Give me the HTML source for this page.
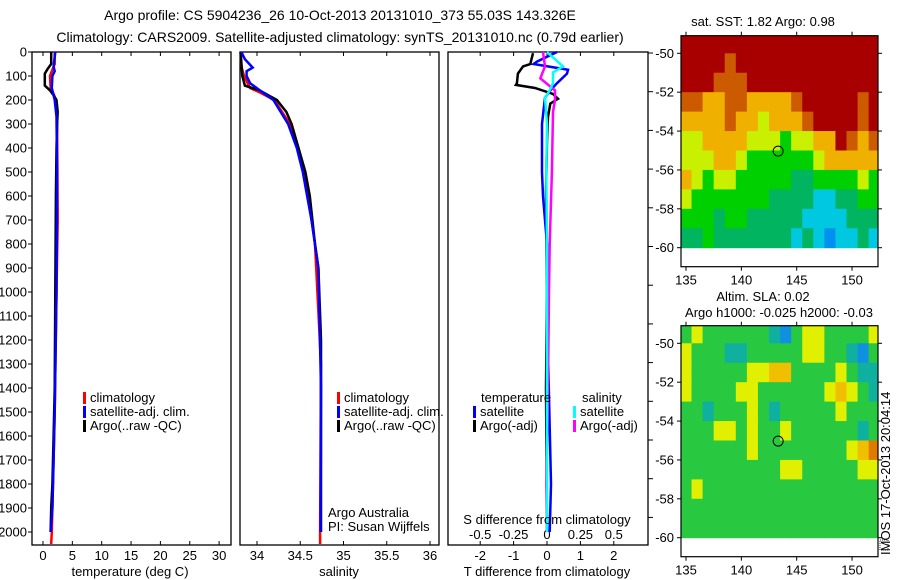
<!DOCTYPE html>
<html><head><meta charset="utf-8"><style>
html,body{margin:0;padding:0;background:#fff}
svg{display:block;font-family:"Liberation Sans",sans-serif}
</style></head><body>
<svg id="chart" width="900" height="580" viewBox="0 0 900 580" xmlns="http://www.w3.org/2000/svg">
<g id="g-plot"></g>
<g id="g-static" font-size="13" fill="#000">
<text x="340" y="20" text-anchor="middle" font-size="14">Argo profile: CS 5904236_26 10-Oct-2013 20131010_373 55.03S 143.326E</text>
<text x="340" y="42" text-anchor="middle" font-size="14">Climatology: CARS2009. Satellite-adjusted climatology: synTS_20131010.nc (0.79d earlier)</text>
<text x="130" y="576" text-anchor="middle">temperature (deg C)</text>
<text x="339" y="576" text-anchor="middle">salinity</text>
<text x="547" y="576" text-anchor="middle">T difference from climatology</text>
<text x="547" y="524" text-anchor="middle">S difference from climatology</text>
<text x="763" y="26" text-anchor="middle">sat. SST: 1.82 Argo: 0.98</text>
<text x="763" y="301" text-anchor="middle">Altim. SLA: 0.02</text>
<text x="779" y="317" text-anchor="middle">Argo h1000: -0.025 h2000: -0.03</text>
<text transform="translate(890,555) rotate(-90)" x="0" y="0">IMOS 17-Oct-2013 20:04:14</text>
<rect x="880" y="540" width="8" height="10" fill="none" stroke="#000" stroke-width="0.8" stroke-dasharray="1,1"/>
<text x="328" y="517">Argo Australia</text>
<text x="328" y="531">PI: Susan Wijffels</text>
</g>
</svg>
<script>
// ---------- profile data ----------
var climTDepth = [0,50,80,100,150,180,250,300,700,1000,1500,2000,2050];
var climTVal   = [2.0,2.0,1.5,1.2,1.3,1.9,2.3,2.4,2.5,2.3,2.0,1.5,1.4];
var satTDepth  = [0,60,80,100,150,200,270,500,1000,1500,1700,1900,2000];
var satTVal    = [2.1,1.8,2.0,1.6,1.5,2.0,2.3,2.4,2.3,2.0,1.8,1.6,1.3];
var argoTDepth = [0,50,70,90,140,160,180,200,250,300,400,600,1000,1400,1600,1800,1900,2000];
var argoTVal   = [1.4,1.4,0.8,0.3,0.3,1.2,1.8,2.3,2.5,2.4,2.3,2.2,2.1,2.0,1.8,1.6,1.4,1.3];

var climSDepth = [0,60,100,150,170,200,300,500,800,1300,2000,2050];
var climSVal   = [33.81,33.82,33.85,33.92,34.04,34.20,34.38,34.55,34.67,34.74,34.73,34.73];
var satSDepth  = [0,30,65,80,100,130,170,200,300,400,500,700,900,1400,2000];
var satSVal    = [33.82,33.86,33.95,33.88,33.88,33.92,34.07,34.19,34.36,34.46,34.53,34.63,34.71,34.74,34.735];
var argoSDepth = [0,100,140,160,180,200,250,300,400,500,600,800,900,1200,2000];
var argoSVal   = [33.81,33.83,33.86,34.03,34.13,34.23,34.34,34.40,34.48,34.56,34.61,34.67,34.71,34.74,34.74];

var dSatTDepth = [0,40,50,74,90,130,160,190,300,500,600,700,800,1200,1800,2000];
var dSatTVal   = [0.3,-0.3,-0.4,0.63,0.6,0.3,0.1,-0.06,-0.15,-0.15,-0.12,-0.06,0,0.02,0.12,0.08];
var dArgoTDepth= [5,50,60,90,130,137,150,175,195,215,270,370,580,1000,1400,2000];
var dArgoTVal  = [-0.42,-0.5,-0.72,-0.87,-0.9,-0.93,-0.36,0.18,0.33,0.1,0.03,0,-0.03,0,-0.03,0];
var dSatSDepth = [0,30,60,85,130,160,190,300,500,800,1200,2000];
var dSatSVal   = [0,0.06,0.12,0.045,0.045,0.02,-0.015,0,-0.005,0,0,0];
var dArgoSDepth= [0,60,110,160,200,250,500,800,1000,1500,1800,2000];
var dArgoSVal  = [-0.03,-0.015,-0.05,0.06,0.06,0.045,0.037,0.02,0.015,0.005,-0.005,0];

var depthTicks = [0,100,200,300,400,500,600,700,800,900,1000,1100,1200,1300,1400,1500,1600,1700,1800,1900,2000];
var tempTicks = [0,5,10,15,20,25,30];
var salTicks = [34,34.5,35,35.5,36];
var dTTicks = [-2,-1,0,1,2];
var dSTicks = [-0.5,-0.25,0,0.25,0.5];
var dSTickLabels = ["-0.5","-0.25","0","0.25","0.5"];

// ---------- map data (1-degree cells, lon 135..152, lat -49.5..-59.5) ----------
var mapLons = [135,136,137,138,139,140,141,142,143,144,145,146,147,148,149,150,151,152];
var mapLats = [-49.5,-50.5,-51.5,-52.5,-53.5,-54.5,-55.5,-56.5,-57.5,-58.5,-59.5];
var sstGrid = [
[6,6,6,6,6,6,6,6,6,6,6,6,6,6,6,6,6,6],
[6,6,6,6,5,6,6,6,6,6,6,6,6,6,6,6,6,6],
[6,6,6,5,5,5,6,6,6,6,6,6,6,6,6,6,6,6],
[5,5,4,4,5,5,4,4,4,4,5,6,6,6,6,6,5,6],
[4,4,4,4,5,4,4,3,4,4,4,5,6,6,6,6,5,6],
[3,3,4,4,4,4,3,3,3,2,3,3,4,4,6,5,4,5],
[3,3,3,4,4,3,2,2,2,2,2,2,3,4,4,4,4,4],
[4,3,2,3,3,2,2,2,2,2,1,1,2,2,2,2,3,2],
[3,2,2,2,2,2,2,2,1,1,1,1,0,0,1,1,2,2],
[2,2,2,1,2,2,1,1,1,1,1,0,0,0,0,1,1,1],
[1,1,2,1,1,1,1,1,1,1,0,1,0,-1,0,0,1,0]];
var slaGrid = [
[2,3,2,2,2,2,2,2,1,0,2,3,3,2,2,2,2,3],
[3,2,2,2,1,1,2,2,2,2,2,3,3,2,2,1,0,2],
[3,2,2,2,2,2,3,3,4,4,2,2,2,2,3,2,1,1],
[3,2,2,2,2,3,3,2,2,2,2,2,2,3,4,3,2,1],
[2,2,1,2,2,2,3,2,1,2,2,2,2,2,3,2,2,2],
[2,2,2,3,3,2,3,2,2,3,2,2,2,2,2,2,1,2],
[2,2,2,2,2,2,3,2,2,2,2,2,2,2,2,3,4,5],
[2,2,2,2,2,2,2,2,2,3,3,2,2,2,2,2,3,3],
[2,3,2,2,2,2,2,2,2,2,2,2,2,2,2,2,2,2],
[2,2,2,2,2,2,2,2,2,2,2,2,2,2,2,2,2,2],
[2,2,2,2,2,2,2,2,2,2,2,2,2,2,2,2,2,2]];
var floatLon = 143.326, floatLat = -55.03;
var mapLonTicks = [135,140,145,150];
var mapLatTicks = [-50,-52,-54,-56,-58,-60];

// ---------- drawing ----------
var NS = "http://www.w3.org/2000/svg";
var root = document.getElementById('g-plot');
function mk(tag, attrs, parent){
  var e = document.createElementNS(NS, tag);
  for (var k in attrs) e.setAttribute(k, attrs[k]);
  (parent||root).appendChild(e);
  return e;
}
function yD(d){ return 52 + d*0.24; }
function xT(v){ return 43 + v*5.87; }
function xS(v){ return 257 + (v-34)*86.5; }
function xdT(v){ return 547 + v*33.4; }
function xdS(v){ return 547 + v*133.6; }

var PT=52, PB=545;
var panels = [[32,231],[240,439],[448,648]];
panels.forEach(function(p,i){
  var r = mk('rect',{x:p[0],y:PT,width:p[1]-p[0],height:PB-PT,fill:'#fff',stroke:'#000','stroke-width':1.3});
  
  
});
depthTicks.forEach(function(d){
  var y = yD(d);
  var l = mk('line',{x1:28,y1:y,x2:32,y2:y,stroke:'#000'});
  
  
  var t = mk('text',{x:27,y:y+4.5,'text-anchor':'end','font-size':13});
  t.textContent = d;
  
  
});
function xTicks(vals, fx, labels, ly){
  vals.forEach(function(v,i){
    var x = fx(v);
    var a = mk('line',{x1:x,y1:PT,x2:x,y2:PT+4,stroke:'#000'});
    
    
    var b = mk('line',{x1:x,y1:PB,x2:x,y2:PB-4,stroke:'#000'});
    
    
    if (labels){
      var t = mk('text',{x:x,y:ly,'text-anchor':'middle','font-size':13});
      t.textContent = labels[i];
      
      
    }
  });
}
xTicks(tempTicks, xT, tempTicks, 560);
xTicks(salTicks, xS, salTicks, 560);
xTicks(dTTicks, xdT, dTTicks, 560);
dSTicks.forEach(function(v,i){
  var t = mk('text',{x:xdS(v),y:539,'text-anchor':'middle','font-size':13});
  t.textContent = dSTickLabels[i];
  
  
});
for (var k=0;k<13;k++){
  var yy = 53 + k*38.7;
  var l = mk('line',{x1:648,y1:yy,x2:653,y2:yy,stroke:'#000'});
  
  
}
function line(depths, vals, fx, color, name, w){
  var pts = depths.map(function(d,i){ return fx(vals[i]).toFixed(1)+','+yD(d).toFixed(1); }).join(' ');
  var p = mk('polyline',{points:pts,fill:'none',stroke:color,'stroke-width':w||2.5,'stroke-linejoin':'miter'});
  
  
}
line(climTDepth, climTVal, xT, '#ff0000', 'temperature-climatology-line');
line(argoTDepth, argoTVal, xT, '#000000', 'temperature-argo-line');
line(satTDepth, satTVal, xT, '#0000ff', 'temperature-satellite-line');
line(climSDepth, climSVal, xS, '#ff0000', 'salinity-climatology-line');
line(argoSDepth, argoSVal, xS, '#000000', 'salinity-argo-line');
line(satSDepth, satSVal, xS, '#0000ff', 'salinity-satellite-line');
line(dArgoTDepth, dArgoTVal, xdT, '#000000', 'tdiff-argo-line');
line(dSatTDepth, dSatTVal, xdT, '#0000ff', 'tdiff-satellite-line');
line(dArgoSDepth, dArgoSVal, xdS, '#ff00ff', 'sdiff-argo-line');
line(dSatSDepth, dSatSVal, xdS, '#00ffff', 'sdiff-satellite-line');

function legend(x, y, color, label, name){
  var r = mk('rect',{x:x,y:y-10,width:3,height:12,fill:color});
  
  
  var t = mk('text',{x:x+7,y:y,'font-size':13});
  t.textContent = label;
  
  
}
legend(83,402,'#ff0000','climatology','legend-climatology');
legend(83,416,'#0000ff','satellite-adj. clim.','legend-satellite');
legend(83,430,'#000000','Argo(..raw -QC)','legend-argo');
legend(337,402,'#ff0000','climatology','legend-climatology-2');
legend(337,416,'#0000ff','satellite-adj. clim.','legend-satellite-2');
legend(337,430,'#000000','Argo(..raw -QC)','legend-argo-2');
var th = mk('text',{x:481,y:402,'font-size':13}); th.textContent='temperature';


var sh = mk('text',{x:582,y:402,'font-size':13}); sh.textContent='salinity';


legend(473,416,'#0000ff','satellite','legend-t-satellite');
legend(473,430,'#000000','Argo(-adj)','legend-t-argo');
legend(573,416,'#00ffff','satellite','legend-s-satellite');
legend(573,430,'#ff00ff','Argo(-adj)','legend-s-argo');

// maps
var sstColors = {'6':'#a80000','5':'#cc5a00','4':'#f0b000','3':'#c8f000','2':'#00d000','1':'#00b460','0':'#00c8e0','-1':'#0090f0'};
var slaColors = {'5':'#e07a00','4':'#f0c000','3':'#e0f000','2':'#28c840','1':'#10b0a0','0':'#1090e0'};
function lonX(l){ return 686 + (l-135)*11.07; }
function drawMap(grid, colors, top, bottom, y50, id, name){
  function latY(l){ return y50 + (-50 - l)*19.44; }
  var clip = mk('clipPath',{id:id});
  mk('rect',{x:681,y:top,width:197,height:bottom-top},clip);
  var g = mk('g',{'clip-path':'url(#'+id+')'});
  
  
  mapLats.forEach(function(la,j){
    mapLons.forEach(function(lo,i){
      var v = grid[j][i];
      var y0 = latY(la+0.5), y1 = latY(la-0.5);
      if (j===0) y0 = top;
      var c = mk('rect',{x:lonX(lo-0.5),y:y0,width:11.07+0.5,height:y1-y0+0.5,fill:colors[String(v)]}, g);
      
      
    });
  });
  var b = mk('rect',{x:681,y:top,width:197,height:bottom-top,fill:'none',stroke:'#000','stroke-width':1.2});
  
  
  var ci = mk('circle',{cx:lonX(floatLon),cy:latY(floatLat),r:5,fill:'none',stroke:'#000','stroke-width':1});
  
  
  mapLonTicks.forEach(function(lo){
    var x = lonX(lo);
    var a = mk('line',{x1:x,y1:top,x2:x,y2:top-4,stroke:'#000'});
    
    
    var b2 = mk('line',{x1:x,y1:bottom,x2:x,y2:bottom+4,stroke:'#000'});
    
    
    var t = mk('text',{x:x,y:bottom+18,'text-anchor':'middle','font-size':13});
    t.textContent = lo;
    
    
  });
  mapLatTicks.forEach(function(la){
    var y = latY(la);
    var a = mk('line',{x1:681,y1:y,x2:677,y2:y,stroke:'#000'});
    
    
    var b2 = mk('line',{x1:878,y1:y,x2:882,y2:y,stroke:'#000'});
    
    
    var t = mk('text',{x:674,y:y+4.5,'text-anchor':'end','font-size':13});
    t.textContent = la;
    
    
  });
}
drawMap(sstGrid, sstColors, 35.7, 266.7, 53.3, 'clipSST', 'sst-map');
drawMap(slaGrid, slaColors, 325.7, 556.7, 343.3, 'clipSLA', 'sla-map');
</script>
</body></html>
